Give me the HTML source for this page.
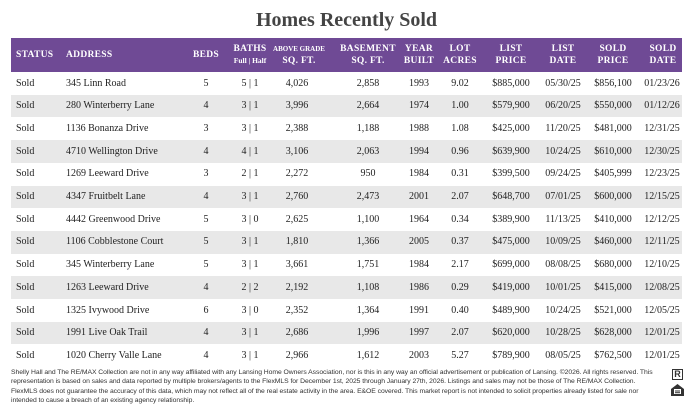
<!DOCTYPE html>
<html><head><meta charset="utf-8"><style>
body{margin:0;width:693px;height:411px;background:#fff;position:relative;overflow:hidden;font-family:"Liberation Serif",serif;}
.abs{position:absolute;}
#title{left:0;width:693px;top:9px;text-align:center;font-size:20px;font-weight:bold;color:#444;}
#hdr{left:11px;top:38px;width:671px;height:34px;background:#6f4a95;}
.h{position:absolute;color:#fff;font-weight:bold;font-size:9.5px;letter-spacing:.3px;text-align:center;line-height:12px;transform:translateX(-50%);white-space:nowrap;}
.row{position:absolute;left:11px;width:671px;height:22.7px;}
.c{position:absolute;font-size:10px;color:#222;white-space:nowrap;top:5.5px;transform:translateX(-50%);}
.l{transform:none;}
#foot{left:11px;top:368px;width:652px;font-family:"Liberation Sans",sans-serif;font-size:6.8px;line-height:9.3px;color:#333;letter-spacing:-.05px;}
</style></head><body>
<div id="title" class="abs">Homes Recently Sold</div>
<div id="hdr" class="abs">
 <div class="h" style="left:5px;top:11px;transform:none">STATUS</div>
 <div class="h" style="left:55px;top:11px;transform:none">ADDRESS</div>
 <div class="h" style="left:195px;top:11px">BEDS</div>
 <div class="h" style="left:239px;top:5px">BATHS<br><span style="font-size:7.5px;letter-spacing:0">Full | Half</span></div>
 <div class="h" style="left:288px;top:5px"><span style="font-size:7px;letter-spacing:0">ABOVE GRADE</span><br>SQ. FT.</div>
 <div class="h" style="left:357px;top:5px">BASEMENT<br>SQ. FT.</div>
 <div class="h" style="left:408px;top:5px">YEAR<br>BUILT</div>
 <div class="h" style="left:449px;top:5px">LOT<br>ACRES</div>
 <div class="h" style="left:500px;top:5px">LIST<br>PRICE</div>
 <div class="h" style="left:552px;top:5px">LIST<br>DATE</div>
 <div class="h" style="left:602px;top:5px">SOLD<br>PRICE</div>
 <div class="h" style="left:652px;top:5px">SOLD<br>DATE</div>
</div>
<div id="rows"></div>
<div id="foot" class="abs">Shelly Hall and The RE/MAX Collection are not in any way affiliated with any Lansing Home Owners Association, nor is this in any way an official advertisement or publication of Lansing. ©2026. All rights reserved. This representation is based on sales and data reported by multiple brokers/agents to the FlexMLS for December 1st, 2025 through January 27th, 2026. Listings and sales may not be those of The RE/MAX Collection. FlexMLS does not guarantee the accuracy of this data, which may not reflect all of the real estate activity in the area. E&amp;OE covered. This market report is not intended to solicit properties already listed for sale nor intended to cause a breach of an existing agency relationship.</div>
<div class="abs" style="left:672px;top:369px;width:11px;height:11px;border:1.5px solid #333;box-sizing:border-box;font:bold 9px 'Liberation Sans',sans-serif;text-align:center;line-height:9px;color:#333">R</div>
<svg class="abs" style="left:671px;top:384px" width="13" height="14"><path d="M6.5 0 L13 5 L13 12 L0 12 L0 5 Z" fill="#333"/><rect x="3" y="5" width="7" height="5" fill="#fff"/><rect x="4" y="6.5" width="5" height="1" fill="#333"/><rect x="4" y="8.2" width="5" height="1" fill="#333"/></svg>
<script>
const addresses=["345 Linn Road","280 Winterberry Lane","1136 Bonanza Drive","4710 Wellington Drive","1269 Leeward Drive","4347 Fruitbelt Lane","4442 Greenwood Drive","1106 Cobblestone Court","345 Winterberry Lane","1263 Leeward Drive","1325 Ivywood Drive","1991 Live Oak Trail","1020 Cherry Valle Lane"];
const beds=[5,4,3,4,3,4,5,5,5,4,6,4,4];
const baths=["5 | 1","3 | 1","3 | 1","4 | 1","2 | 1","3 | 1","3 | 0","3 | 1","3 | 1","2 | 2","3 | 0","3 | 1","3 | 1"];
const aboveSqft=["4,026","3,996","2,388","3,106","2,272","2,760","2,625","1,810","3,661","2,192","2,352","2,686","2,966"];
const baseSqft=["2,858","2,664","1,188","2,063","950","2,473","1,100","1,366","1,751","1,108","1,364","1,996","1,612"];
const yearBuilt=[1993,1974,1988,1994,1984,2001,1964,2005,1984,1986,1991,1997,2003];
const lotAcres=["9.02","1.00","1.08","0.96","0.31","2.07","0.34","0.37","2.17","0.29","0.40","2.07","5.27"];
const listPrice=["$885,000","$579,900","$425,000","$639,900","$399,500","$648,700","$389,900","$475,000","$699,000","$419,000","$489,900","$620,000","$789,900"];
const listDate=["05/30/25","06/20/25","11/20/25","10/24/25","09/24/25","07/01/25","11/13/25","10/09/25","08/08/25","10/01/25","10/24/25","10/28/25","08/05/25"];
const soldPrice=["$856,100","$550,000","$481,000","$610,000","$405,999","$600,000","$410,000","$460,000","$680,000","$415,000","$521,000","$628,000","$762,500"];
const soldDate=["01/23/26","01/12/26","12/31/25","12/30/25","12/23/25","12/15/25","12/12/25","12/11/25","12/10/25","12/08/25","12/05/25","12/01/25","12/01/25"];
const cols=[[5,true],[55,true],[195],[239],[286],[357],[408],[449],[500],[552],[602],[651]];
const names=["status","address","beds","baths","above-grade-sqft","basement-sqft","year-built","lot-acres","list-price","list-date","sold-price","sold-date"];
const host=document.getElementById('rows');
for(let i=0;i<addresses.length;i++){
 const r=document.createElement('div');
 r.className='row';
 r.style.top=(72+i*22.7)+'px';
 r.style.background=i%2?'#e8e8e8':'#fff';
 
 
 const vals=["Sold",addresses[i],beds[i],baths[i],aboveSqft[i],baseSqft[i],yearBuilt[i],lotAcres[i],listPrice[i],listDate[i],soldPrice[i],soldDate[i]];
 vals.forEach((v,j)=>{
  const c=document.createElement('div');
  c.className='c'+(cols[j][1]?' l':'');
  c.style.left=cols[j][0]+'px';
  c.textContent=v;
  
  
  r.appendChild(c);
 });
 host.appendChild(r);
}
</script>
</body></html>
